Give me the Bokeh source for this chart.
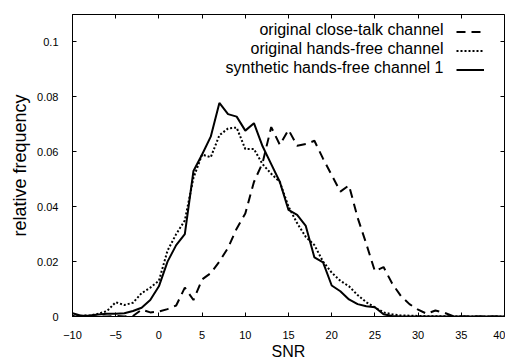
from bokeh.plotting import figure
from bokeh.models import Range1d, LinearAxis, FixedTicker, Label, Legend, LegendItem
from bokeh.core.properties import value
from bokeh.embed import file_html
from bokeh.resources import INLINE

snr = list(range(-10, 41))

close_talk = [0, 0, 0, 0, 0, 0.0002, 0, 0.0002, 0.0025, 0.0015,
              0.0018, 0.0027, 0.004, 0.0105, 0.006, 0.0135, 0.0158, 0.020, 0.025, 0.032,
              0.0375, 0.049, 0.056, 0.069, 0.0625, 0.068, 0.0622, 0.0628, 0.064, 0.0575,
              0.0515, 0.0455, 0.0478, 0.036, 0.0265, 0.0165, 0.018, 0.012, 0.0075, 0.0045,
              0.0025, 0.001, 0.0022, 0.0014, 0.0002, 0, 0, 0, 0, 0, 0]

orig_handsfree = [0.0002, 0.0003, 0.0004, 0.001, 0.002, 0.0052, 0.0042, 0.005, 0.0085, 0.0105,
                  0.013, 0.024, 0.030, 0.035, 0.0505, 0.059, 0.058, 0.066, 0.0685, 0.0688,
                  0.061, 0.061, 0.0555, 0.052, 0.049, 0.040, 0.034, 0.029, 0.026, 0.020,
                  0.016, 0.013, 0.011, 0.0078, 0.0052, 0.0033, 0.0015, 0.0008, 0.0004, 0.0003,
                  0.0002, 0.0001, 0.0001, 0.0001, 0.0001, 0, 0, 0, 0, 0, 0]

synth_handsfree = [0.0012, 0.0003, 0.0004, 0.0007, 0.001, 0.001, 0.0012, 0.002, 0.0032, 0.006,
                   0.011, 0.020, 0.026, 0.030, 0.053, 0.059, 0.0655, 0.0778, 0.0737, 0.0728,
                   0.0677, 0.0704, 0.062, 0.0555, 0.049, 0.0388, 0.037, 0.033, 0.0215, 0.0197,
                   0.0113, 0.0092, 0.0062, 0.0045, 0.0037, 0.0034, 0.0008, 0.0002, 0, 0,
                   0, 0, 0, 0, 0, 0, 0, 0, 0, 0, 0]

series_names = ["original close-talk channel", "original hands-free channel",
                "synthetic hands-free channel 1"]

x_ticks = [-10, -5, 0, 5, 10, 15, 20, 25, 30, 35, 40]
y_ticks = [0, 0.02, 0.04, 0.06, 0.08, 0.1]
y_tick_labels = ["0", "0.02", "0.04", "0.06", "0.08", "0.1"]
x_title = "SNR"
y_title = "relative frequency"

FONT = "Liberation Sans"

p = figure(width=505, height=363, output_backend="svg", toolbar_location=None,
           x_range=Range1d(-10, 40), y_range=Range1d(0, 0.11),
           min_border_left=72, min_border_right=1, min_border_top=14, min_border_bottom=47)

p.background_fill_color = "white"
p.border_fill_color = "white"
p.outline_line_color = "black"
p.outline_line_width = 1
p.outline_line_alpha = 1
p.xgrid.visible = False
p.ygrid.visible = False

xa = p.xaxis[0]
ya = p.yaxis[0]
xa.ticker = FixedTicker(ticks=x_ticks)
ya.ticker = FixedTicker(ticks=y_ticks)
ya.major_label_overrides = {t: l for t, l in zip(y_ticks, y_tick_labels)}
for ax in (xa, ya):
    ax.axis_line_color = "black"
    ax.major_tick_line_color = "black"
    ax.major_tick_in = 4
    ax.major_tick_out = 0
    ax.minor_tick_line_color = None
    ax.major_label_text_font = FONT
    ax.major_label_text_font_size = "11px"
    ax.major_label_text_color = "black"
    ax.axis_label_text_font = FONT
    ax.axis_label_text_font_style = "normal"
    ax.axis_label_text_color = "black"
xa.axis_label = x_title
ya.axis_label = y_title
xa.axis_label_text_font_size = "16px"
ya.axis_label_text_font_size = "18px"
xa.major_label_standoff = 14
xa.axis_label_standoff = 1
ya.major_label_standoff = 14
ya.axis_label_standoff = 4

top = LinearAxis(ticker=FixedTicker(ticks=x_ticks))
right = LinearAxis(ticker=FixedTicker(ticks=y_ticks))
for ax in (top, right):
    ax.axis_line_color = None
    ax.major_tick_line_color = "black"
    ax.major_tick_in = 4
    ax.major_tick_out = 0
    ax.minor_tick_line_color = None
    ax.major_label_text_font_size = "0px"
    ax.major_label_text_color = None
    ax.major_label_standoff = 0
p.add_layout(top, "above")
p.add_layout(right, "right")

r1 = p.line(snr, close_talk, line_color="black", line_width=2, line_dash="9 6")
r2 = p.line(snr, orig_handsfree, line_color="black", line_width=2, line_dash="2 2")
r3 = p.line(snr, synth_handsfree, line_color="black", line_width=2)

legend = Legend(items=[LegendItem(label=value(" "), renderers=[r]) for r in (r1, r2, r3)],
                location="top_right", orientation="vertical",
                glyph_width=28, glyph_height=17, label_height=17, label_width=0,
                label_standoff=11, spacing=2, padding=6, margin=9,
                label_text_font_size="1px", label_text_color=None,
                border_line_color=None, background_fill_alpha=0)
p.add_layout(legend)

row_y = [287, 268, 249]
for name, yy in zip(series_names, row_y):
    p.add_layout(Label(x=371, y=yy, x_units="screen", y_units="screen", text=name,
                       text_align="right", text_baseline="middle",
                       text_font=FONT, text_font_size="16px", text_color="black"))

open("out.html", "w").write(file_html(p, INLINE))
